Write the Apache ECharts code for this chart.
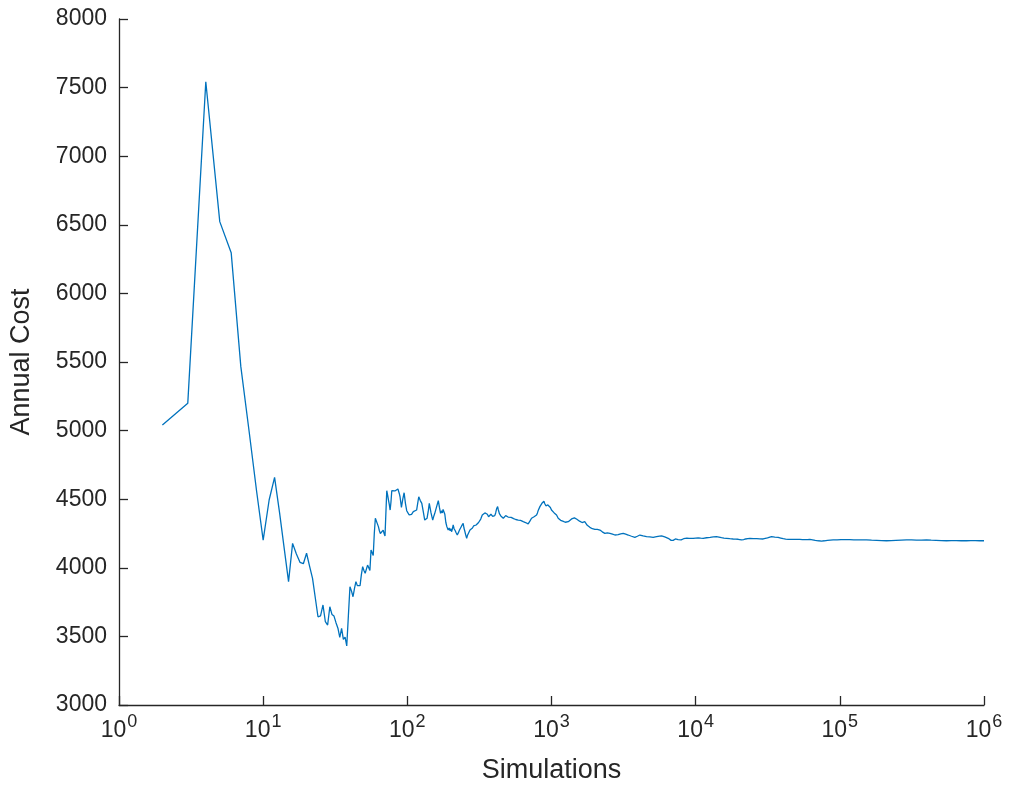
<!DOCTYPE html>
<html>
<head>
<meta charset="utf-8">
<title>Annual Cost vs Simulations</title>
<script src="https://cdn.jsdelivr.net/npm/echarts@6/dist/echarts.min.js"></script>
<style>
  html, body { margin: 0; padding: 0; background: #fff; }
  #chart { width: 1010px; height: 787px; }
</style>
</head>
<body>
<div id="chart"></div>
<script>
/* ---------- data ---------- */
var simulations = [
  2, 3, 4, 5, 6, 7, 8, 9, 10, 11, 12, 13, 14, 15, 16, 17, 18, 19, 20,
  21, 22, 23, 24, 25, 26, 27, 28, 29, 30, 31, 32, 33, 34, 35, 36, 37, 38, 39, 40,
  41, 42, 43, 44, 45, 46, 47, 48, 49, 50, 51, 52, 53, 54, 55, 56, 57, 58, 59, 60,
  61, 62, 63, 64, 65, 66, 67, 68, 69, 70, 71, 72, 73, 74, 75, 76, 77, 78, 80, 82,
  84, 86, 88, 89, 91, 93, 95, 97, 99, 101, 103, 105, 107, 110, 113, 116, 118, 120,
  123, 126, 129, 132, 135, 137, 140, 142, 146, 150, 153, 155, 160, 164, 167, 170,
  173, 175, 177, 179, 182, 185, 188, 192, 195, 198, 200, 203, 206, 208, 211, 215,
  218, 222, 225, 227, 230, 232, 235, 238, 241, 244, 247, 250, 254, 258, 261, 265,
  268, 272, 277, 283, 288, 294, 300, 306, 312, 319, 323, 327, 331, 336, 340, 345,
  350, 355, 359, 363, 366, 370, 374, 377, 380, 384, 387, 391, 394, 398, 404, 410,
  416, 423, 427, 431, 435, 439, 445, 451, 457, 463, 469, 475, 481, 488, 494, 500,
  507, 515, 525, 535, 546, 557, 565, 572, 580, 588, 598, 610, 623, 637, 648, 660,
  674, 689, 698, 708, 717, 727, 742, 757, 772, 788, 799, 810, 820, 831, 845, 858,
  872, 886, 895, 905, 914, 924, 934, 944, 954, 964, 973, 982, 991, 1000,
  1014, 1028, 1044, 1060, 1072, 1084, 1098, 1113, 1126, 1140, 1157, 1175, 1197,
  1220, 1246, 1273, 1307, 1342, 1378, 1415, 1442, 1470, 1500, 1532, 1565, 1600,
  1630, 1660, 1680, 1700, 1735, 1770, 1808, 1846, 1883, 1920, 1960, 2000, 2040,
  2080, 2120, 2167, 2210, 2250, 2300, 2345, 2390, 2440, 2490, 2541, 2595, 2650,
  2700, 2753, 2825, 2900, 2960, 3020, 3080, 3143, 3205, 3270, 3335, 3404, 3500,
  3590, 3690, 3786, 3860, 3940, 4020, 4102, 4210, 4320, 4440, 4563, 4690, 4810,
  4940, 5074, 5250, 5420, 5610, 5800, 5950, 6100, 6270, 6448, 6550, 6650, 6760,
  6872, 6980, 7100, 7230, 7366, 7460, 7550, 7660, 7770, 7930, 8100, 8250, 8413,
  8700, 9000, 9300, 9610, 10000, 10400, 10830, 11270, 11900, 12600, 13260, 13960,
  14500, 15100, 15700, 16370, 17250, 18200, 18950, 19710, 20800, 21500, 22200,
  23000, 23770, 25100, 26500, 27900, 29380, 30400, 31500, 32500, 33590, 35400,
  37340, 38900, 40500, 42100, 43800, 45900, 48000, 50300, 52800, 55000, 57000,
  59400, 61940, 64700, 67500, 71000, 74650, 78200, 82000, 85900, 89900, 95700,
  102000, 109000, 117300, 125000, 134000, 143000, 153100, 166000, 180000,
  195000, 210700, 227000, 245000, 267000, 290000, 314000, 340000, 368000,
  399000, 430000, 465000, 505000, 549000, 593000, 640000, 695000, 755000,
  810000, 870000, 935000, 1000000
];

var annualCost = [
  5040, 5200, 7543, 6523, 6297, 5466, 4990, 4560, 4202, 4494, 4659, 4400, 4140, 3899, 4178, 4100, 4040, 4030, 4106,
  4010, 3923, 3780, 3643, 3650, 3729, 3607, 3583, 3716, 3660, 3648, 3600, 3560, 3493, 3559, 3479, 3495, 3430, 3650, 3862,
  3830, 3789, 3850, 3899, 3870, 3862, 3870, 3950, 4008, 3980, 3960, 3990, 4020, 4000, 3980, 4130, 4110, 4090, 4250, 4361,
  4370, 4320, 4300, 4270, 4250, 4239, 4260, 4275, 4250, 4232, 4400, 4562, 4530, 4494, 4460, 4421, 4480, 4562, 4555, 4560,
  4567, 4575, 4540, 4518, 4441, 4500, 4547, 4470, 4416, 4400, 4385, 4373, 4390, 4409, 4420, 4421, 4470, 4518,
  4490, 4470, 4410, 4348, 4355, 4361, 4420, 4470, 4400, 4348, 4380, 4397, 4450, 4489, 4440, 4397,
  4415, 4400, 4425, 4421, 4390, 4330, 4300, 4275, 4290, 4270, 4285, 4263, 4290, 4312, 4285, 4270,
  4255, 4239, 4250, 4260, 4275, 4288, 4270, 4305, 4310, 4324, 4290, 4270, 4240, 4215, 4235, 4250,
  4262, 4275, 4285, 4290, 4305, 4300, 4312, 4320, 4330, 4336, 4355, 4370, 4385, 4397, 4385, 4400,
  4395, 4409, 4390, 4380, 4372, 4361, 4375, 4380, 4390, 4397, 4380, 4375, 4368, 4361, 4380, 4400,
  4430, 4446, 4425, 4410, 4395, 4385, 4378, 4370, 4366, 4361, 4370, 4375, 4380, 4385, 4375, 4370,
  4365, 4361, 4368, 4365, 4358, 4361, 4352, 4355, 4345, 4348, 4340, 4345, 4338, 4336, 4330, 4330,
  4322, 4320, 4332, 4340, 4350, 4361, 4365, 4372, 4378, 4385, 4400, 4420, 4432, 4446, 4458, 4470,
  4478, 4485, 4470, 4460, 4452, 4446, 4462, 4458, 4465, 4458, 4448, 4440, 4430, 4421,
  4416, 4409, 4400, 4395, 4390, 4385, 4372, 4361, 4355, 4350, 4346, 4343, 4340,
  4336, 4332, 4329, 4336, 4341, 4356, 4368, 4364, 4360, 4354, 4348, 4340, 4335,
  4330, 4324, 4333, 4336, 4322, 4310, 4302, 4295, 4290, 4285, 4282, 4280, 4284,
  4280, 4278, 4275, 4268, 4262, 4256, 4251, 4256, 4255, 4252, 4251, 4248, 4245,
  4242, 4239, 4241, 4242, 4246, 4248, 4250, 4251, 4248, 4245, 4242, 4239, 4234,
  4230, 4226, 4222, 4226, 4230, 4235, 4239, 4236, 4232, 4230, 4227, 4226, 4225,
  4223, 4222, 4226, 4228, 4231, 4232, 4229, 4225, 4220, 4215, 4210, 4205, 4200,
  4195, 4200, 4205, 4210, 4215, 4210, 4205, 4201, 4197, 4203, 4208, 4212, 4215,
  4216, 4215, 4214, 4215, 4217, 4218, 4216, 4215, 4219, 4222, 4225, 4227,
  4224, 4220, 4217, 4215, 4212, 4210, 4209, 4208, 4203, 4206, 4210,
  4213, 4215, 4213, 4212, 4211, 4210, 4214, 4218, 4223, 4227, 4224,
  4222, 4217, 4212, 4209, 4207, 4207, 4207, 4207, 4207, 4206, 4206,
  4206, 4207, 4204, 4200, 4197, 4195, 4197, 4200, 4202, 4203, 4204,
  4205, 4205, 4205, 4204, 4204, 4203, 4203, 4201, 4200,
  4198, 4197, 4198, 4200, 4202, 4203, 4203, 4202, 4202,
  4203, 4201, 4200, 4198, 4197, 4198, 4198, 4197, 4197,
  4198, 4198, 4197, 4197
];

var yTicks = { min: 3000, max: 8000, step: 500 };
var xRange = { min: 1, max: 1000000 };

/* ---------- chart ---------- */
var chart = echarts.init(document.getElementById('chart'));

var seriesData = simulations.map(function (n, i) {
  return [n, annualCost[i]];
});

var axisColor = '#262626';
var fontFamily = 'Liberation Sans, Arial, sans-serif';

var option = {
  backgroundColor: '#ffffff',
  animation: false,
  grid: { left: 119, right: 26, top: 19, bottom: 82, outerBoundsMode: 'none', containLabel: false },
  xAxis: {
    type: 'log',
    logBase: 10,
    min: xRange.min,
    max: xRange.max,
    name: 'Simulations',
    nameLocation: 'middle',
    nameGap: 52,
    nameTextStyle: { color: axisColor, fontSize: 27, fontFamily: fontFamily },
    axisLine: { show: true, lineStyle: { color: axisColor, width: 1.3 } },
    axisTick: { show: true, inside: true, length: 9, lineStyle: { color: axisColor, width: 1.3 } },
    minorTick: { show: false },
    splitLine: { show: false },
    axisLabel: {
      color: axisColor,
      margin: 8,
      formatter: function (v) {
        var e = Math.round(Math.log(v) / Math.LN10);
        return '{b|10}{e|' + e + '}';
      },
      rich: {
        b: { fontSize: 23, fontFamily: fontFamily, color: axisColor },
        e: { fontSize: 18, fontFamily: fontFamily, color: axisColor, padding: [0, 0, 17, 1] }
      }
    }
  },
  yAxis: {
    type: 'value',
    min: yTicks.min,
    max: yTicks.max,
    interval: yTicks.step,
    name: 'Annual Cost',
    nameLocation: 'middle',
    nameGap: 84,
    nameTextStyle: { color: axisColor, fontSize: 27, fontFamily: fontFamily },
    axisLine: { show: true, lineStyle: { color: axisColor, width: 1.3 } },
    axisTick: { show: true, inside: true, length: 9, lineStyle: { color: axisColor, width: 1.3 } },
    splitLine: { show: false },
    axisLabel: {
      color: axisColor,
      fontSize: 23,
      fontFamily: fontFamily,
      margin: 12,
      formatter: function (v) { return String(v); }
    }
  },
  series: [
    {
      type: 'line',
      data: seriesData,
      showSymbol: false,
      symbol: 'none',
      smooth: false,
      lineStyle: { color: '#0072BD', width: 1.3 },
      itemStyle: { color: '#0072BD' }
    }
  ]
};

chart.setOption(option);
</script>
</body>
</html>
